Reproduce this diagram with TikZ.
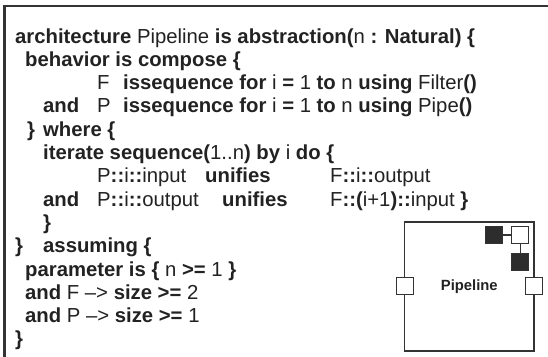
\documentclass[tikz,border=0pt]{standalone}
\usepackage{fontspec}
\setmainfont{Liberation Sans}
\definecolor{ink}{HTML}{222222}
\definecolor{frame}{HTML}{333333}
\newcommand\kw[1]{\textbf{#1}}
\begin{document}
\begin{tikzpicture}[x=1pt,y=-1pt,
  codeline/.style={anchor=base west,inner sep=0pt,text=ink,
    font=\fontsize{20.3}{24}\selectfont},
  compbox/.style={draw=frame,line width=1.6pt,fill=white},
  openport/.style={draw=frame,line width=1.3pt,fill=white,minimum size=17pt,inner sep=0pt},
  solidport/.style={draw=frame,line width=1.3pt,fill=ink!95,minimum size=17pt,inner sep=0pt},
  portlink/.style={draw=frame,line width=1.3pt}]
\useasboundingbox (0,0) rectangle (548,356);
\fill[white] (0,0) rectangle (548,356);
% outer frame (top and left edges)
\draw[frame,line width=2.4pt] (4.5,357) -- (4.5,6) -- (549,6);

% source text, one baseline every 23.3pt
\def\ly#1{\fpeval{43+23.3*(#1)}}
\node[codeline] (l1) at (15,\ly{0}) {\kw{architecture} Pipeline \kw{is abstraction(}n\kw{ : Natural) \{}};
\node[codeline] (l2) at (25,\ly{1}) {\kw{behavior is compose \{}};
\node[codeline] (l3a) at (97,\ly{2}) {F};
\node[codeline] (l3b) at (123,\ly{2}) {\kw{issequence for} i \kw{=} 1 \kw{to} n \kw{using} Filter\kw{()}};
\node[codeline] (l4a) at (43,\ly{3}) {\kw{and}};
\node[codeline] (l4b) at (97,\ly{3}) {P};
\node[codeline] (l4c) at (123,\ly{3}) {\kw{issequence for} i \kw{=} 1 \kw{to} n \kw{using} Pipe\kw{()}};
\node[codeline] (l5a) at (27,\ly{4}) {\kw{\}}};
\node[codeline] (l5b) at (43,\ly{4}) {\kw{where \{}};
\node[codeline] (l6) at (43,\ly{5}) {\kw{iterate sequence(}1..n\kw{) by} i \kw{do \{}};
\node[codeline] (l7a) at (97,\ly{6}) {P\kw{::}i\kw{::}input};
\node[codeline] (l7b) at (205,\ly{6}) {\kw{unifies}};
\node[codeline] (l7c) at (330,\ly{6}) {F\kw{::}i\kw{::}output};
\node[codeline] (l8a) at (43,\ly{7}) {\kw{and}};
\node[codeline] (l8b) at (97,\ly{7}) {P\kw{::}i\kw{::}output};
\node[codeline] (l8c) at (222,\ly{7}) {\kw{unifies}};
\node[codeline] (l8d) at (330,\ly{7}) {F\kw{::(}i+1\kw{)::}input \kw{\}}};
\node[codeline] (l9) at (43,\ly{8}) {\kw{\}}};
\node[codeline] (l10a) at (15,\ly{9}) {\kw{\}}};
\node[codeline] (l10b) at (43,\ly{9}) {\kw{assuming \{}};
\node[codeline] (l11) at (25,\ly{10}) {\kw{parameter is \{} n \kw{>=} 1 \kw{\}}};
\node[codeline] (l12) at (25,\ly{11}) {\kw{and} F –> \kw{size >=} 2};
\node[codeline] (l13) at (25,\ly{12}) {\kw{and} P –> \kw{size >=} 1};
\node[codeline] (l14) at (15,\ly{13}) {\kw{\}}};

% component box with its ports
\draw[compbox] (404.5,222) rectangle (534,351);
\node[text=ink,font=\bfseries\fontsize{14.8}{17}\selectfont] (pipe) at (469.3,286.5) {Pipeline};
\node[openport] (pin) at (404.8,285.8) {};
\node[openport] (pout) at (534.2,285.8) {};
\node[openport] (hub) at (520.3,235) {};
\node[solidport] (dl) at (493.8,235) {};
\node[solidport] (dd) at (520.3,261.8) {};
\draw[portlink] (dl) -- (hub);
\draw[portlink] (hub) -- (dd);
\end{tikzpicture}
\end{document}
